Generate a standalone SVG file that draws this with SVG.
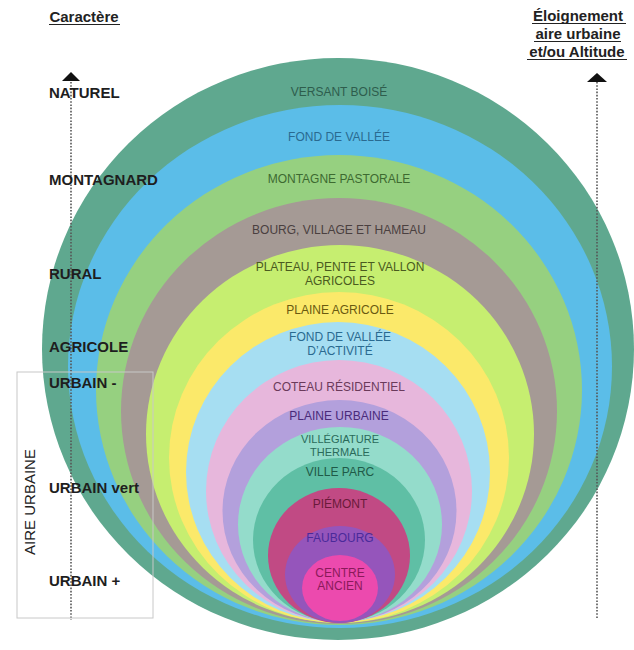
<svg xmlns="http://www.w3.org/2000/svg" width="634" height="650" viewBox="0 0 634 650">
<style>
.band{stroke:none}
.lbl{font-family:"Liberation Sans",Arial,sans-serif;font-size:12px;text-anchor:middle}
.sm{font-size:11px}
.side{font-family:"Liberation Sans",Arial,sans-serif;font-size:15px;font-weight:bold;fill:#1e1e1e}
.hdr{font-family:"Liberation Sans",Arial,sans-serif;font-size:15px;font-weight:bold;fill:#222;text-anchor:middle}
.ul{stroke:#222;stroke-width:1.2}
.dots{stroke:#555;stroke-width:1.6;stroke-dasharray:1.6 1.6;fill:none}
</style>
<rect width="634" height="650" fill="#ffffff"/>
<g id="nodes">
<g id="versant-boise"><ellipse class="band" cx="338" cy="349" rx="296" ry="291" fill="#5fa88f"/></g>
<g id="fond-de-vallee"><ellipse class="band" cx="340" cy="366.5" rx="272" ry="261.5" fill="#5bbde8"/></g>
<g id="montagne-pastorale"><ellipse class="band" cx="339" cy="390" rx="243" ry="235" fill="#96d080"/></g>
<g id="bourg"><ellipse class="band" cx="339" cy="411" rx="218" ry="213" fill="#a59a95"/></g>
<g id="plateau"><ellipse class="band" cx="340" cy="434" rx="194" ry="189" fill="#c6ee70"/></g>
<g id="plaine-agricole"><ellipse class="band" cx="339" cy="457.5" rx="170" ry="165.5" fill="#fbe96a"/></g>
<g id="fond-activite"><ellipse class="band" cx="338" cy="472" rx="152" ry="150" fill="#a6def2"/></g>
<g id="coteau"><ellipse class="band" cx="339" cy="491" rx="133" ry="131" fill="#e7b7dc"/></g>
<g id="plaine-urbaine"><ellipse class="band" cx="339.5" cy="511" rx="117" ry="111" fill="#b3a0dc"/></g>
<g id="villegiature"><ellipse class="band" cx="340" cy="524.5" rx="102" ry="97.5" fill="#94dccb"/></g>
<g id="ville-parc"><ellipse class="band" cx="339" cy="540" rx="86" ry="82" fill="#5fbfa5"/></g>
<g id="piemont"><ellipse class="band" cx="339" cy="555.5" rx="71" ry="67.5" fill="#c14a84"/></g>
<g id="faubourg"><ellipse class="band" cx="340" cy="574.5" rx="55" ry="48.5" fill="#9555bb"/></g>
<g id="centre-ancien"><ellipse class="band" cx="340" cy="588" rx="38" ry="33" fill="#ec4aae"/></g>
</g>
<g id="connectors">
<line class="dots" x1="71" y1="82" x2="71" y2="620"/>
<polygon points="71,72 62,81 80,81" fill="#111"/>
<line class="dots" x1="597" y1="82" x2="597" y2="618"/>
<polygon points="597,73 587,82 607,82" fill="#111"/>
</g>
<g id="aire-urbaine">
<rect x="17" y="372" width="136" height="246" fill="none" stroke="#c8c8c8" stroke-width="1"/>
<text transform="translate(35,502) rotate(-90)" font-family="'Liberation Sans',Arial,sans-serif" font-size="15" fill="#222" text-anchor="middle">AIRE URBAINE</text>
</g>
<g id="labels">
<text class="lbl" x="339" y="96" fill="#2e5d4d">VERSANT BOISÉ</text>
<text class="lbl" x="339" y="141" fill="#2a6a90">FOND DE VALLÉE</text>
<text class="lbl" x="339" y="183" fill="#3d6a30">MONTAGNE PASTORALE</text>
<text class="lbl" x="339" y="234" fill="#4a4040">BOURG, VILLAGE ET HAMEAU</text>
<text class="lbl" x="340" y="271" fill="#4a5a20">PLATEAU, PENTE ET VALLON</text>
<text class="lbl" x="340" y="285" fill="#4a5a20">AGRICOLES</text>
<text class="lbl" x="340" y="314" fill="#6a5a10">PLAINE AGRICOLE</text>
<text class="lbl" x="340" y="341" fill="#2a6a90">FOND DE VALLÉE</text>
<text class="lbl" x="340" y="355" fill="#2a6a90">D’ACTIVITÉ</text>
<text class="lbl" x="339" y="391" fill="#6a3a5a">COTEAU RÉSIDENTIEL</text>
<text class="lbl" x="339" y="420" fill="#4a2a7a">PLAINE URBAINE</text>
<text class="lbl sm" x="340" y="443" fill="#2a6a5a">VILLÉGIATURE</text>
<text class="lbl sm" x="340" y="456" fill="#2a6a5a">THERMALE</text>
<text class="lbl" x="340" y="476" fill="#1f5a48">VILLE PARC</text>
<text class="lbl" x="340" y="508" fill="#6a1a3a">PIÉMONT</text>
<text class="lbl" x="340" y="542" fill="#4a2a9a">FAUBOURG</text>
<text class="lbl" x="340" y="577" fill="#8a1a5a">CENTRE</text>
<text class="lbl" x="340" y="590" fill="#8a1a5a">ANCIEN</text>
</g>
<g id="side-labels">
<text class="side" x="49" y="98">NATUREL</text>
<text class="side" x="49" y="185">MONTAGNARD</text>
<text class="side" x="49" y="279">RURAL</text>
<text class="side" x="49" y="352">AGRICOLE</text>
<text class="side" x="49" y="388">URBAIN -</text>
<text class="side" x="49" y="493">URBAIN vert</text>
<text class="side" x="49" y="586">URBAIN +</text>
</g>
<g id="headers">
<text class="hdr" x="84" y="22">Caractère</text>
<line class="ul" x1="49" y1="24.5" x2="120" y2="24.5"/>
<text class="hdr" x="578" y="21">Éloignement</text>
<line class="ul" x1="532" y1="23.5" x2="626" y2="23.5"/>
<text class="hdr" x="578" y="39">aire urbaine</text>
<line class="ul" x1="534" y1="41.5" x2="621" y2="41.5"/>
<text class="hdr" x="577" y="57">et/ou Altitude</text>
<line class="ul" x1="527" y1="59.5" x2="627" y2="59.5"/>
</g>
</svg>
